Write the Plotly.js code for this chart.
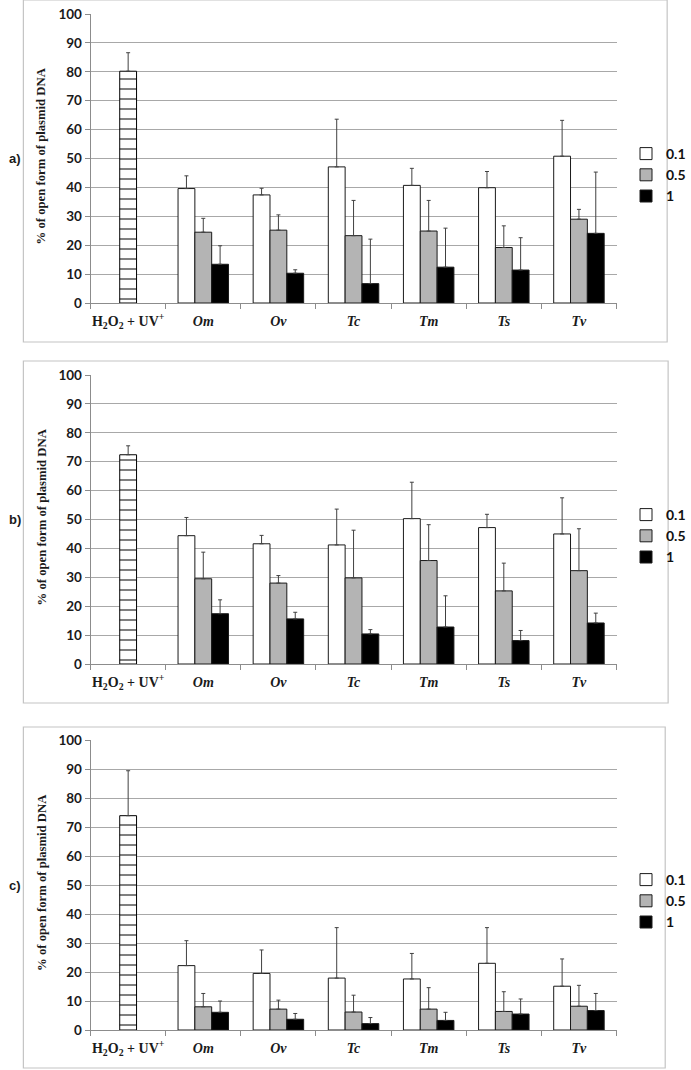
<!DOCTYPE html>
<html>
<head>
<meta charset="utf-8">
<script src="https://cdn.plot.ly/plotly-3.0.1.min.js"></script>
<style>html,body{margin:0;padding:0;background:#fff;}#chart{width:691px;height:1070px;}</style>
</head>
<body>
<div id="chart"></div>
<script>
// ---- data ----
const categories = ['<b>H<sub>2</sub>O<sub>2</sub> + UV<sup>+</sup></b>', '<b><i>Om</i></b>', '<b><i>Ov</i></b>', '<b><i>Tc</i></b>', '<b><i>Tm</i></b>', '<b><i>Ts</i></b>', '<b><i>Tv</i></b>'];
const seriesNames = ['0.1', '0.5', '1'];
const panelLabels = ['a)', 'b)', 'c)'];
const yTicks = [0, 10, 20, 30, 40, 50, 60, 70, 80, 90, 100];

// control bar (H2O2 + UV+) value and error per panel
const controlA = 80.2, controlErrA = 6.4;
const controlB = 72.4, controlErrB = 3.1;
const controlC = 73.9, controlErrC = 15.5;

// panel a: values for Om, Ov, Tc, Tm, Ts, Tv
const a01 = [39.6, 37.4, 47.1, 40.7, 39.9, 50.8];
const a05 = [24.5, 25.2, 23.3, 24.9, 19.2, 29.0];
const a1  = [13.4, 10.3, 6.7, 12.4, 11.4, 24.1];
const a01err = [4.4, 2.3, 16.5, 5.9, 5.6, 12.4];
const a05err = [4.8, 5.3, 12.2, 10.6, 7.5, 3.4];
const a1err  = [6.4, 1.2, 15.4, 13.5, 11.2, 21.2];

// panel b
const b01 = [44.4, 41.6, 41.2, 50.3, 47.2, 45.0];
const b05 = [29.5, 28.0, 29.8, 35.8, 25.3, 32.3];
const b1  = [17.4, 15.6, 10.4, 12.8, 8.1, 14.2];
const b01err = [6.3, 2.9, 12.4, 12.6, 4.6, 12.5];
const b05err = [9.2, 2.6, 16.5, 12.4, 9.6, 14.5];
const b1err  = [4.8, 2.3, 1.5, 10.8, 3.5, 3.4];

// panel c
const c01 = [22.2, 19.5, 17.9, 17.6, 23.0, 15.1];
const c05 = [8.0, 7.2, 6.2, 7.2, 6.4, 8.2];
const c1  = [6.1, 3.7, 2.2, 3.3, 5.5, 6.7];
const c01err = [8.6, 8.1, 17.4, 8.8, 12.3, 9.4];
const c05err = [4.6, 3.1, 5.8, 7.4, 6.8, 7.2];
const c1err  = [3.9, 2.0, 2.1, 2.8, 5.2, 5.9];

// ---- build ----
const W = 691, H = 1070;
const px = v => v / W;
const py = v => 1 - v / H;

const panels = [
  {ctrl: controlA, ctrlErr: controlErrA, s: [a01, a05, a1], e: [a01err, a05err, a1err],
   top: 14, bot: 303, frame: [24, 0, 685, 342], legY: 149},
  {ctrl: controlB, ctrlErr: controlErrB, s: [b01, b05, b1], e: [b01err, b05err, b1err],
   top: 375, bot: 664, frame: [24, 361, 686, 703], legY: 510},
  {ctrl: controlC, ctrlErr: controlErrC, s: [c01, c05, c1], e: [c01err, c05err, c1err],
   top: 740, bot: 1030, frame: [24, 727, 683, 1068], legY: 875}
];

const fills = ['#ffffff', '#b4b4b4', '#000000'];
const offsets = [-0.336, -0.112, 0.112];
const bw = 0.224;
const errStyle = {color: '#404040', thickness: 1, width: 2};

const traces = [];
const layout = {
  width: W, height: H,
  margin: {l: 0, r: 0, t: 0, b: 0},
  paper_bgcolor: '#ffffff', plot_bgcolor: 'rgba(0,0,0,0)',
  barmode: 'overlay',
  showlegend: true,
  shapes: [], annotations: []
};

panels.forEach((p, i) => {
  const n = i === 0 ? '' : String(i + 1);
  const xa = 'x' + n, ya = 'y' + n;
  const legName = 'legend' + n;
  // control bar
  traces.push({
    type: 'bar', x: [categories[0]], y: [p.ctrl], xaxis: xa, yaxis: ya,
    width: bw, offset: -0.112, showlegend: false,
    marker: {color: '#ffffff', line: {color: '#000000', width: 1},
             pattern: {shape: '-', fgcolor: '#000000', bgcolor: '#ffffff', size: 10, solidity: 0.1}},
    error_y: Object.assign({type: 'data', symmetric: false, array: [p.ctrlErr], arrayminus: [0]}, errStyle),
    hoverinfo: 'skip'
  });
  seriesNames.forEach((nm, k) => {
    traces.push({
      type: 'bar', name: nm, x: categories.slice(1), y: p.s[k], xaxis: xa, yaxis: ya,
      width: bw, offset: offsets[k], legend: legName,
      marker: {color: fills[k], line: {color: '#1a1a1a', width: 1}},
      error_y: Object.assign({type: 'data', symmetric: false, array: p.e[k], arrayminus: p.s[k].map(() => 0)}, errStyle),
      hoverinfo: 'skip'
    });
  });

  layout['xaxis' + n] = {
    domain: [px(93), px(633)], anchor: ya, type: 'category',
    categoryorder: 'array', categoryarray: categories,
    showgrid: false, showline: true, linecolor: '#8c8c8c', linewidth: 1,
    ticks: 'outside', tickson: 'boundaries', ticklen: 5, tickcolor: '#8c8c8c',
    tickangle: 0,
    tickfont: {family: 'Liberation Serif', size: 14, color: '#1a1a1a'},
    ticklabelstandoff: 5, fixedrange: true
  };
  layout['yaxis' + n] = {
    domain: [py(p.bot), py(p.top)], anchor: xa, range: [0, 100],
    tickvals: yTicks, ticktext: yTicks.map(String),
    showgrid: true, gridcolor: '#a8a8a8', gridwidth: 1,
    showline: true, linecolor: '#8c8c8c', linewidth: 1,
    ticks: 'outside', ticklen: 5, tickcolor: '#8c8c8c',
    tickfont: {family: 'Lato', size: 13.5, color: '#1a1a1a', weight: 'bold'},
    zeroline: false, fixedrange: true
  };
  layout[legName] = {
    x: px(643), y: py(p.legY - 11), xanchor: 'left', yanchor: 'top',
    bgcolor: 'rgba(0,0,0,0)', borderwidth: 0,
    font: {family: 'Lato', size: 14, color: '#111111', weight: 'bold'},
    itemwidth: 30, tracegroupgap: 0
  };
  layout.shapes.push({
    type: 'rect', xref: 'paper', yref: 'paper', layer: 'below',
    x0: px(p.frame[0]), x1: px(p.frame[2]), y0: py(p.frame[3]), y1: py(p.frame[1]),
    line: {color: '#c4c4c4', width: 1.2}, fillcolor: 'rgba(0,0,0,0)'
  });
  layout.annotations.push({
    xref: 'paper', yref: 'paper', x: px(43), y: py((p.top + p.bot) / 2 - 3),
    text: '<b>% of open form of plasmid DNA</b>', textangle: -90, showarrow: false,
    xanchor: 'center', yanchor: 'middle',
    font: {family: 'Liberation Serif', size: 12.7, color: '#1a1a1a'}
  });
  layout.annotations.push({
    xref: 'paper', yref: 'paper', x: px(15), y: py((p.top + p.bot) / 2),
    text: '<b>' + panelLabels[i] + '</b>', showarrow: false,
    xanchor: 'center', yanchor: 'middle',
    font: {family: 'Liberation Sans', size: 13, color: '#1a1a1a'}
  });
});

Plotly.newPlot('chart', traces, layout, {displayModeBar: false, staticPlot: true});
</script>
</body>
</html>
